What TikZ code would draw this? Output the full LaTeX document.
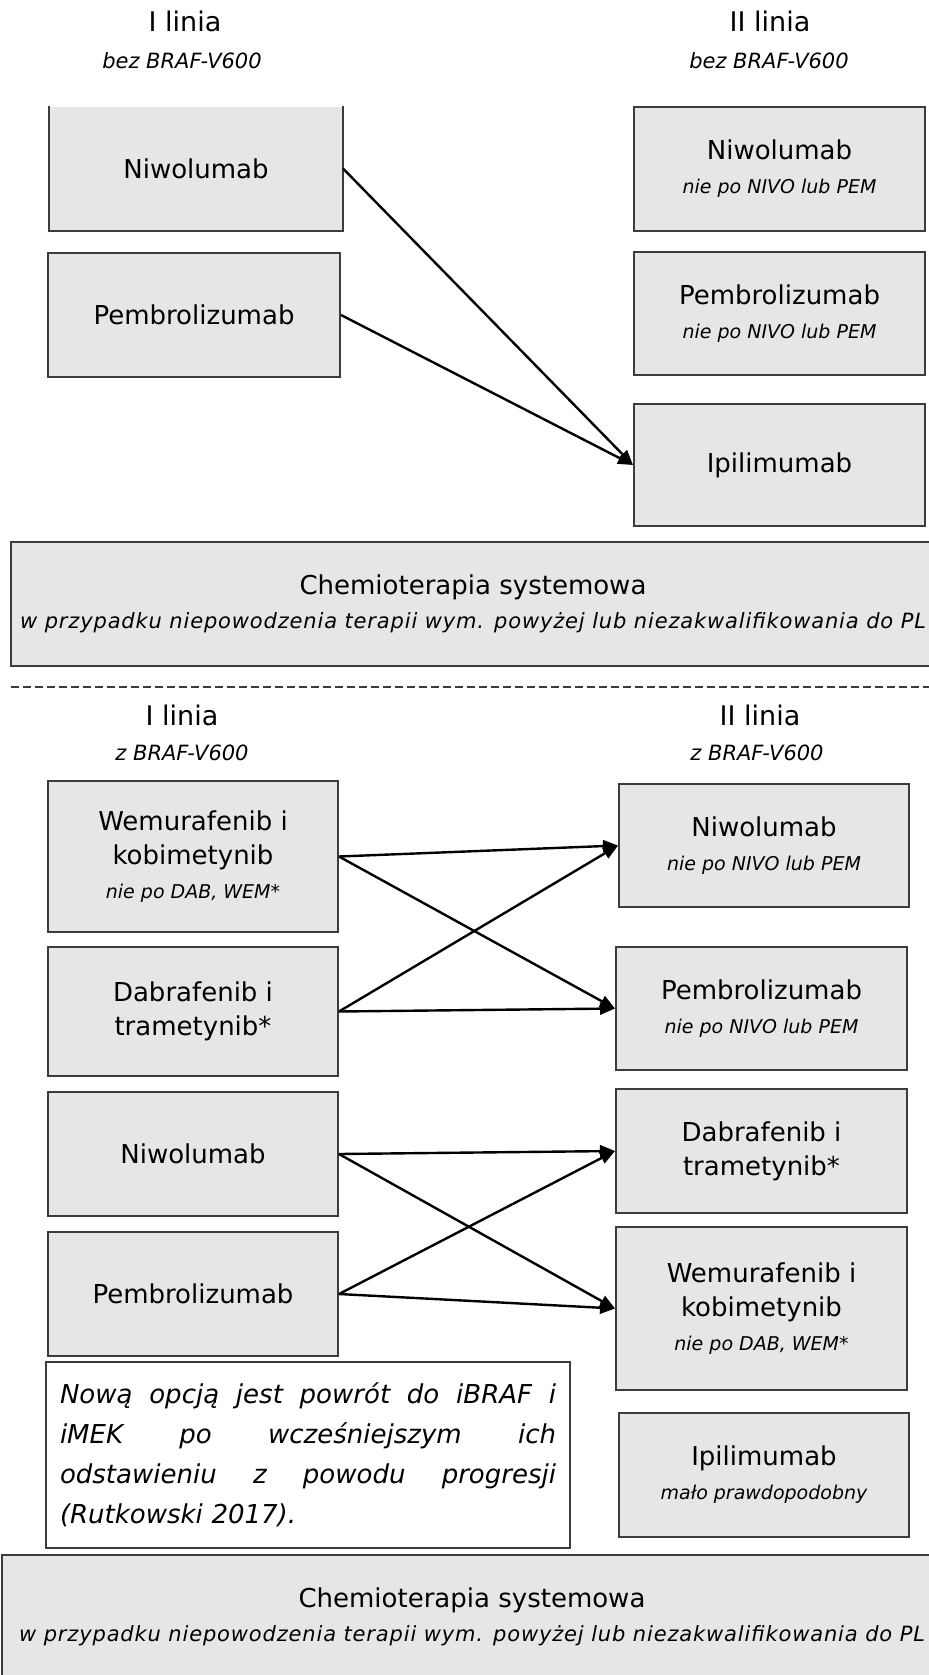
\documentclass[tikz,border=0pt]{standalone}
\usepackage{fontspec}
\setmainfont{DejaVu Sans}
\usetikzlibrary{arrows.meta}
\definecolor{boxfill}{RGB}{230,230,230}
\definecolor{boxline}{RGB}{60,60,60}
\newcommand{\dopisek}[1]{{\fontsize{9.5}{17}\selectfont\itshape #1}}
\newcommand{\warunek}[1]{{\fontsize{10.5}{17}\selectfont\itshape\addfontfeature{LetterSpace=4}#1}}

\begin{document}
\begin{tikzpicture}[x=0.5pt, y=-0.5pt,
    box/.style={draw=boxline, fill=boxfill, line width=1pt, inner sep=0pt, align=center,
        minimum width=145.5pt, minimum height=62pt, font=\fontsize{13}{17}\selectfont},
    head/.style={font=\fontsize{13.5}{16}\selectfont},
    sub/.style={font=\fontsize{10.5}{12}\selectfont\itshape},
    arr/.style={-{Triangle[length=7.5pt,width=6pt]}, line width=1.2pt}]
    \useasboundingbox (0,0) rectangle (929,1675);

    % bez BRAF-V600
    \node[head] (linIa) at (185,21) {I linia};
    \node[sub] (linIasub) at (182,61) {bez BRAF-V600};
    \node[head] (linIIa) at (770,21) {II linia};
    \node[sub] (linIIasub) at (769,61) {bez BRAF-V600};

    \node[box, draw=none, minimum width=146pt, minimum height=61.5pt] (niwoI) at (196,168.5) {Niwolumab};
    \draw[boxline, line width=1pt] (niwoI.north west) -- (niwoI.south west) -- (niwoI.south east) -- (niwoI.north east);
    \node[box, minimum width=146pt] (pembI) at (194,315) {Pembrolizumab};

    \node[box] (niwoII) at (779.5,169) {Niwolumab\\\dopisek{nie po NIVO lub PEM}};
    \node[box, minimum height=61.5pt] (pembII) at (779.5,313.5) {Pembrolizumab\\\dopisek{nie po NIVO lub PEM}};
    \node[box, minimum height=61pt] (ipiII) at (779.5,465) {Ipilimumab};

    \draw[arr] (niwoI.east) -- (ipiII.west);
    \draw[arr] (pembI.east) -- (ipiII.west);

    \node[box, minimum width=462pt] (chemA) at (473,604) {Chemioterapia systemowa\\\warunek{w przypadku niepowodzenia terapii wym. powyżej lub niezakwalifikowania do PL}};

    % separator
    \coordinate (sepL) at (11,687);
    \coordinate (sepR) at (935,687);
    \draw[boxline, line width=0.9pt, dash pattern=on 4pt off 2pt] (sepL) -- (sepR);

    % z BRAF-V600
    \node[head] (linIb) at (182,715) {I linia};
    \node[sub] (linIbsub) at (182,753) {z BRAF-V600};
    \node[head] (linIIb) at (760,715) {II linia};
    \node[sub] (linIIbsub) at (757,753) {z BRAF-V600};

    \node[box, minimum width=145pt, minimum height=75.5pt] (wemI) at (193,856.5) {Wemurafenib i\\kobimetynib\\\dopisek{nie po DAB, WEM*}};
    \node[box, minimum width=145pt, minimum height=64.5pt] (dabI) at (193,1011.5) {Dabrafenib i\\trametynib*};
    \node[box, minimum width=145pt] (niwoIb) at (193,1154) {Niwolumab};
    \node[box, minimum width=145pt] (pembIb) at (193,1294) {Pembrolizumab};

    \node[box, minimum width=145pt, minimum height=61.5pt] (niwoIIb) at (764,845.5) {Niwolumab\\\dopisek{nie po NIVO lub PEM}};
    \node[box, minimum height=61.5pt] (pembIIb) at (761.5,1008.5) {Pembrolizumab\\\dopisek{nie po NIVO lub PEM}};
    \node[box] (dabIIb) at (761.5,1151) {Dabrafenib i\\trametynib*};
    \node[box, minimum height=81.5pt] (wemIIb) at (761.5,1308.5) {Wemurafenib i\\kobimetynib\\\dopisek{nie po DAB, WEM*}};
    \node[box, minimum width=145pt] (ipiIIb) at (764,1475) {Ipilimumab\\\dopisek{mało prawdopodobny}};

    \draw[arr] (wemI.east) -- (niwoIIb.west);
    \draw[arr] (wemI.east) -- (pembIIb.west);
    \draw[arr] (dabI.east) -- (niwoIIb.west);
    \draw[arr] (dabI.east) -- (pembIIb.west);
    \draw[arr] (niwoIb.east) -- (dabIIb.west);
    \draw[arr] (niwoIb.east) -- (wemIIb.west);
    \draw[arr] (pembIb.east) -- (dabIIb.west);
    \draw[arr] (pembIb.east) -- (wemIIb.west);

    \node[draw=boxline, fill=white, line width=1pt, inner sep=0pt, minimum width=262pt, minimum height=93pt,
        text width=248pt, align=left, font=\fontsize{13}{20}\selectfont\itshape] (uwaga) at (308,1455)
        {\makebox[248pt]{Nową\hfill opcją\hfill jest\hfill powrót\hfill do\hfill iBRAF\hfill i}\\
         \makebox[248pt]{iMEK\hfill po\hfill wcześniejszym\hfill ich}\\
         \makebox[248pt]{odstawieniu\hfill z\hfill powodu\hfill progresji}\\
         (Rutkowski 2017).};

    \node[box, minimum width=470pt] (chemB) at (472,1617) {Chemioterapia systemowa\\\warunek{w przypadku niepowodzenia terapii wym. powyżej lub niezakwalifikowania do PL}};
\end{tikzpicture}
\end{document}
